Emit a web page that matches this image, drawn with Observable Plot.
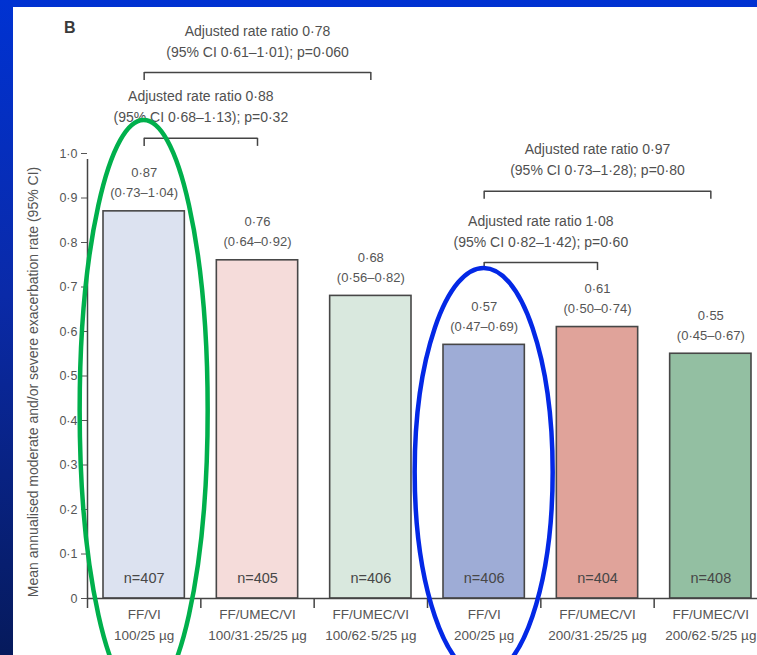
<!DOCTYPE html>
<html>
<head>
<meta charset="utf-8">
<script src="https://cdn.jsdelivr.net/npm/d3@7"></script>
<script src="https://cdn.jsdelivr.net/npm/@observablehq/plot@0.6"></script>
<style>
  html, body { margin: 0; padding: 0; }
  body {
    width: 757px; height: 655px; overflow: hidden; position: relative;
    background: linear-gradient(to bottom, #0032d2 0%, #0a2aa8 45%, #061a5c 100%);
  }
  #panel { position: absolute; left: 13px; top: 7px; width: 744px; height: 648px; background: #fff; }
  #chart { position: absolute; left: 0; top: 0; }
  #tag { position: absolute; left: 64px; top: 19px; font: bold 16px "Liberation Sans", Arial, sans-serif; color: #3a3a3a; }
</style>
</head>
<body>
<div id="panel"></div>
<div id="chart"></div>
<div id="tag">B</div>
<script>
// Treatment arms
const arms = ["FF/VI", "FF/UMEC/VI", "FF/UMEC/VI", "FF/VI", "FF/UMEC/VI", "FF/UMEC/VI"];
const doses = ["100/25 µg", "100/31·25/25 µg", "100/62·5/25 µg", "200/25 µg", "200/31·25/25 µg", "200/62·5/25 µg"];
// Mean annualised moderate/severe exacerbation rate with 95% CI
const rates = [0.87, 0.76, 0.68, 0.57, 0.61, 0.55];
const ciLow = [0.73, 0.64, 0.56, 0.47, 0.50, 0.45];
const ciHigh = [1.04, 0.92, 0.82, 0.69, 0.74, 0.67];
const nPatients = [407, 405, 406, 406, 404, 408];
const barColors = ["#dce2f0", "#f5dcda", "#d9e8de", "#9eacd6", "#e0a39a", "#93bfa2"];

// Pairwise comparisons (indices into the arms above)
const cmpFrom = [0, 0, 3, 3];
const cmpTo = [1, 2, 4, 5];
const cmpRatio = [0.88, 0.78, 1.08, 0.97];
const cmpLow = [0.68, 0.61, 0.82, 0.73];
const cmpHigh = [1.13, 1.01, 1.42, 1.28];
const cmpP = ["0·32", "0·060", "0·60", "0·80"];

const yTicks = [0, 0.1, 0.2, 0.3, 0.4, 0.5, 0.6, 0.7, 0.8, 0.9, 1.0];
const yLabel = "Mean annualised moderate and/or severe exacerbation rate (95% CI)";

// Layout: bracket heights (in rate units) and highlight ovals
const bracketLevel = [1.034, 1.182, 0.755, 0.915];
const bracketDrop = 0.018;
const highlights = [
  {index: 0, color: "#00b04c", cy: 410, rx: 64, ry: 290},
  {index: 3, color: "#0328e6", cy: 472, rx: 69, ry: 204}
];

const dot = (v, d = 2) => v.toFixed(d).replace(".", "·");

const bars = rates.map((r, i) => ({
  i, rate: r, fill: barColors[i], n: nPatients[i],
  label: `${dot(r)}\n(${dot(ciLow[i])}–${dot(ciHigh[i])})`,
  tick: `${arms[i]}\n${doses[i]}`
}));
const comps = cmpFrom.map((f, k) => ({
  a: f + 0.5, b: cmpTo[k] + 0.5, mid: (f + cmpTo[k] + 1) / 2, level: bracketLevel[k],
  text: `Adjusted rate ratio ${dot(cmpRatio[k])}\n(95% CI ${dot(cmpLow[k])}–${dot(cmpHigh[k])}); p=${cmpP[k]}`
}));
const ends = comps.flatMap(c => [{x: c.a, level: c.level}, {x: c.b, level: c.level}]);

const plot = Plot.plot({
  width: 757,
  height: 655,
  marginLeft: 87,
  marginTop: 153,
  marginBottom: 57,
  marginRight: 0,
  style: {background: "transparent", fontFamily: "'Liberation Sans', Arial, sans-serif", fontSize: "12.5px", color: "#555", overflow: "visible"},
  x: {type: "linear", domain: [0, 6], range: [87, 767], axis: null},
  y: {domain: [0, 1], ticks: yTicks, tickFormat: d => d === 0 ? "0" : dot(d, 1), tickSize: 6, tickPadding: 4, label: null},
  marks: [
    Plot.rectY(bars, {x1: d => d.i, x2: d => d.i + 1, y: "rate", fill: "fill", stroke: "#474747", strokeWidth: 1.6, insetLeft: 16, insetRight: 16}),
    // axes
    Plot.ruleX([0], {y1: 0, y2: 1, stroke: "#444", strokeWidth: 1.5, insetBottom: -6}),
    Plot.ruleY([0], {stroke: "#444", strokeWidth: 1.5}),
    Plot.ruleX(d3.range(0, 7), {x: d => d, y1: 0, y2: 0, insetBottom: -10, stroke: "#444", strokeWidth: 1.5}),
    Plot.text(bars, {x: d => d.i + 0.5, y: 0, text: "tick", lineAnchor: "top", dy: 6, lineHeight: 1.55, fontSize: 13.5, fill: "#555"}),
    Plot.text([yLabel], {frameAnchor: "left", textAnchor: "middle", rotate: -90, dx: -54, dy: 6, fontSize: 14, fill: "#555"}),
    // values
    Plot.text(bars, {x: d => d.i + 0.5, y: "rate", text: "label", lineAnchor: "bottom", dy: -14, lineHeight: 1.55, fontSize: 13, fill: "#555"}),
    Plot.text(bars, {x: d => d.i + 0.5, y: 0, text: d => `n=${d.n}`, dy: -20, fontSize: 14.5, fill: "#474747"}),
    // comparison brackets
    Plot.link(comps, {x1: "a", x2: "b", y1: "level", y2: "level", stroke: "#444", strokeWidth: 1.5}),
    Plot.ruleX(ends, {x: "x", y1: "level", y2: d => d.level - bracketDrop, stroke: "#444", strokeWidth: 1.5}),
    Plot.text(comps, {x: "mid", y: "level", text: "text", lineAnchor: "bottom", dy: -16, lineHeight: 1.5, fontSize: 14, fill: "#505050"})
  ]
});

// Highlight ovals around the two FF/VI arms
const xs = plot.scale("x");
const svg = d3.select(plot);
for (const h of highlights) {
  svg.append("ellipse")
    .attr("cx", xs.apply(h.index + 0.5))
    .attr("cy", h.cy)
    .attr("rx", h.rx)
    .attr("ry", h.ry)
    .attr("fill", "none")
    .attr("stroke", h.color)
    .attr("stroke-width", 4.5);
}

document.getElementById("chart").append(plot);
</script>
</body>
</html>
